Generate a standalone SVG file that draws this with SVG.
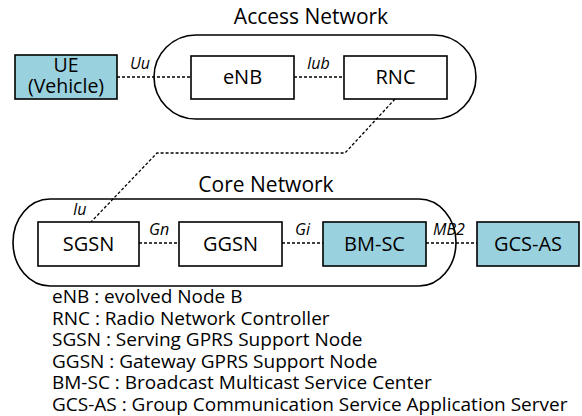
<svg xmlns="http://www.w3.org/2000/svg" width="582" height="416" viewBox="0 0 582 416">
<style>
.box{fill:#fff;stroke:#000;stroke-width:1.6}
.blue{fill:#9AD1DE}
.pill{fill:none;stroke:#000;stroke-width:1.6}
.link{fill:none;stroke:#000;stroke-width:1.3;stroke-dasharray:3 2}
.t{font-family:"Open Sans","DejaVu Sans",sans-serif;font-size:20px;text-anchor:middle;fill:#000}
.title{font-family:"Open Sans","DejaVu Sans",sans-serif;font-size:21px;text-anchor:middle;fill:#000}
.lab{font-family:"Open Sans","DejaVu Sans",sans-serif;font-size:16px;font-style:italic;fill:#000}
.leg{font-family:"Open Sans","DejaVu Sans",sans-serif;font-size:19px;fill:#000}
</style>
<rect width="582" height="416" fill="#fff"/>
<g id="access-network">
<rect class="pill" x="154" y="35" width="322" height="84" rx="42" ry="42"/>
<text class="title" x="311" y="24">Access Network</text>
</g>
<g id="core-network">
<rect class="pill" x="13" y="199" width="443" height="87" rx="37" ry="43.5"/>
<text class="title" x="266" y="192">Core Network</text>
</g>
<g id="connectors">
<line class="link" x1="117" y1="77" x2="191" y2="77"/>
<line class="link" x1="294" y1="77" x2="344" y2="77"/>
<polyline class="link" points="395,99 345,153 157,153 91,222"/>
<line class="link" x1="139" y1="243" x2="179" y2="243"/>
<line class="link" x1="282" y1="243" x2="323" y2="243"/>
<line class="link" x1="426" y1="243" x2="477" y2="243"/>
<text class="lab" x="130" y="69">Uu</text>
<text class="lab" x="307" y="69">Iub</text>
<text class="lab" x="73" y="215">Iu</text>
<text class="lab" x="149" y="235">Gn</text>
<text class="lab" x="295" y="235">Gi</text>
<text class="lab" x="433" y="235">MB2</text>
</g>
<g id="ue">
<rect class="box blue" x="15" y="55" width="102" height="44"/>
<text class="t" x="66" y="72" style="font-size:19.5px">UE</text>
<text class="t" x="66" y="93" style="font-size:19.5px">(Vehicle)</text>
</g>
<g id="enb">
<rect class="box" x="191" y="56" width="103" height="43"/>
<text class="t" x="242.5" y="84">eNB</text>
</g>
<g id="rnc">
<rect class="box" x="344" y="56" width="103" height="43"/>
<text class="t" x="395.5" y="84">RNC</text>
</g>
<g id="sgsn">
<rect class="box" x="38" y="222" width="101" height="44"/>
<text class="t" x="88.5" y="251">SGSN</text>
</g>
<g id="ggsn">
<rect class="box" x="179" y="222" width="103" height="44"/>
<text class="t" x="230.5" y="251">GGSN</text>
</g>
<g id="bm-sc">
<rect class="box blue" x="323" y="222" width="103" height="44"/>
<text class="t" x="374.5" y="251">BM-SC</text>
</g>
<g id="gcs-as">
<rect class="box blue" x="477" y="222" width="102" height="44"/>
<text class="t" x="528" y="251">GCS-AS</text>
</g>
<g id="legend">
<text class="leg" x="52" y="303">eNB : evolved Node B</text>
<text class="leg" x="52" y="324.6">RNC : Radio Network Controller</text>
<text class="leg" x="52" y="346.2">SGSN : Serving GPRS Support Node</text>
<text class="leg" x="52" y="367.8">GGSN : Gateway GPRS Support Node</text>
<text class="leg" x="52" y="389.4">BM-SC : Broadcast Multicast Service Center</text>
<text class="leg" x="52" y="411">GCS-AS : Group Communication Service Application Server</text>
</g>
</svg>
